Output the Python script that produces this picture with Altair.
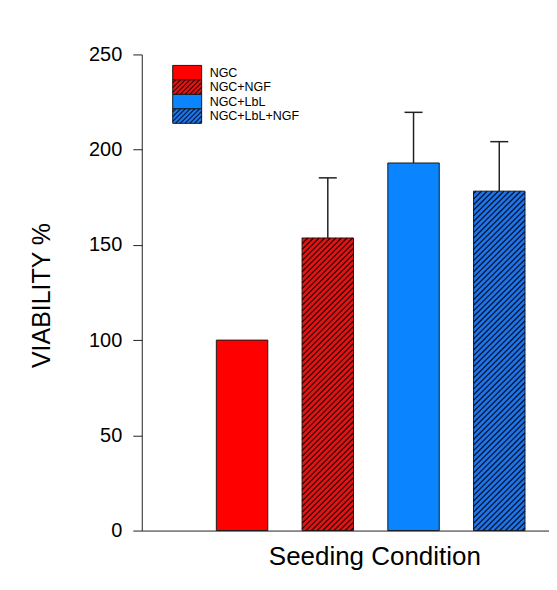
import altair as alt
import numpy as np
import pandas as pd

# ---------------- data ----------------
conditions = ["NGC", "NGC+NGF", "NGC+LbL", "NGC+LbL+NGF"]
positions = [1, 2, 3, 4]
viability = [100.0, 153.6, 193.0, 178.2]
error_up = [0.0, 31.6, 26.6, 26.0]
fills = ["#FF0000", "#E21414", "#0A84FF", "#1F74E8"]
hatch_colors = ["#000000", "#3A0000", "#000000", "#001634"]
hatched = [False, True, False, True]
y_ticks = [0, 50, 100, 150, 200, 250]

# ---------------- layout ----------------
W, H = 408, 477
X_DOMAIN = [-0.17, 4.58]
Y_DOMAIN = [0, 250]
HALF = 0.3          # half bar width in x units
CAP = 0.105         # half cap width
FONT = "Liberation Sans"
PXX = W / (X_DOMAIN[1] - X_DOMAIN[0])
PXY = H / (Y_DOMAIN[1] - Y_DOMAIN[0])
STEP = 5.6


def hatch_segments(w, h, step):
    """diagonal '/' segments inside a w x h box (origin bottom-left, y up)"""
    segs = []
    for c in np.arange(-w + step / 2, h, step):
        x0 = max(0.0, -c)
        x1 = min(w, h - c)
        if x1 <= x0:
            continue
        segs.append((x0, x0 + c, x1, x1 + c))
    return segs


bars = pd.DataFrame({
    "cond": conditions,
    "pos": positions,
    "value": viability,
    "err": error_up,
    "fill": fills,
})
bars["x0"] = bars["pos"] - HALF
bars["x1"] = bars["pos"] + HALF
bars["top"] = bars["value"] + bars["err"]
bars["c0"] = bars["pos"] - CAP
bars["c1"] = bars["pos"] + CAP

rows = []
for p, v, hc, hh in zip(positions, viability, hatch_colors, hatched):
    if not hh:
        continue
    for (a, b, c, d) in hatch_segments(2 * HALF * PXX, v * PXY, STEP):
        rows.append({"hx0": p - HALF + a / PXX, "hy0": b / PXY,
                     "hx1": p - HALF + c / PXX, "hy1": d / PXY, "col": hc})
hatch_df = pd.DataFrame(rows)

xs = alt.Scale(domain=X_DOMAIN, nice=False, zero=False)
ys = alt.Scale(domain=Y_DOMAIN, nice=False)

bar_layer = alt.Chart(bars).mark_rect(stroke="#1a1a1a", strokeWidth=1).encode(
    x=alt.X("x0:Q", scale=xs, axis=alt.Axis(
        title="Seeding Condition", ticks=False, labels=False, grid=False,
        domainColor="#222222", domainWidth=1,
        titleFont=FONT, titleFontSize=26, titleFontWeight="normal", titleColor="#000000",
        titleX=233, titleY=34, titleAlign="center", titleBaseline="alphabetic")),
    x2="x1:Q",
    y=alt.Y("value:Q", scale=ys, axis=alt.Axis(
        title="VIABILITY %", values=y_ticks, grid=False, tickSize=9, tickColor="#222222",
        domainColor="#222222", labelFont=FONT, labelFontSize=20, labelColor="#000000",
        labelPadding=11,
        titleFont=FONT, titleFontSize=25, titleFontWeight="normal", titleColor="#000000",
        titleAngle=270, titleX=-92, titleY=241, titleAlign="center",
        titleBaseline="alphabetic")),
    y2=alt.datum(0),
    fill=alt.Fill("fill:N", scale=None),
)

hatch_layer = alt.Chart(hatch_df).mark_rule(strokeWidth=1.3).encode(
    x=alt.X("hx0:Q", scale=xs), x2="hx1:Q",
    y=alt.Y("hy0:Q", scale=ys), y2="hy1:Q",
    color=alt.Color("col:N", scale=None),
)

err_df = bars[bars["err"] > 0]
err_layer = alt.Chart(err_df).mark_rule(color="#222222", strokeWidth=1.5).encode(
    x=alt.X("pos:Q", scale=xs), y=alt.Y("value:Q", scale=ys), y2="top:Q")
cap_layer = alt.Chart(err_df).mark_rule(color="#222222", strokeWidth=1.5).encode(
    x=alt.X("c0:Q", scale=xs), x2="c1:Q", y=alt.Y("top:Q", scale=ys))

main = alt.layer(bar_layer, hatch_layer, err_layer, cap_layer)

# ---------------- legend (pixel space inside the plot) ----------------
LX, LY, LW, LH = 31, 11, 29, 14.5
leg = pd.DataFrame({"label": conditions, "fill": fills})
leg["i"] = range(len(conditions))
leg["bx0"] = LX
leg["bx1"] = LX + LW
leg["by0"] = LY + leg["i"] * LH
leg["by1"] = LY + (leg["i"] + 1) * LH
leg["ty"] = LY + (leg["i"] + 0.5) * LH
leg["tx"] = LX + LW + 8

lrows = []
for i, (hc, hh) in enumerate(zip(hatch_colors, hatched)):
    if not hh:
        continue
    bottom = LY + (i + 1) * LH
    for (a, b, c, d) in hatch_segments(LW, LH, STEP * 0.85):
        lrows.append({"lx0": LX + a, "ly0": bottom - b, "lx1": LX + c,
                      "ly1": bottom - d, "col": hc})
leg_hatch = pd.DataFrame(lrows)

pxs = alt.Scale(domain=[0, W], range=[0, W], nice=False, zero=False)
pys = alt.Scale(domain=[H, 0], nice=False, zero=False)

leg_box = alt.Chart(leg).mark_rect(stroke="#1a1a1a", strokeWidth=1).encode(
    x=alt.X("bx0:Q", scale=pxs, axis=None), x2="bx1:Q",
    y=alt.Y("by0:Q", scale=pys, axis=None), y2="by1:Q",
    fill=alt.Fill("fill:N", scale=None))
leg_lines = alt.Chart(leg_hatch).mark_rule(strokeWidth=1.1).encode(
    x=alt.X("lx0:Q", scale=pxs, axis=None), x2="lx1:Q",
    y=alt.Y("ly0:Q", scale=pys, axis=None), y2="ly1:Q",
    color=alt.Color("col:N", scale=None))
leg_text = alt.Chart(leg).mark_text(
    align="left", baseline="middle", font=FONT, fontSize=12.5, color="#000000").encode(
    x=alt.X("tx:Q", scale=pxs, axis=None),
    y=alt.Y("ty:Q", scale=pys, axis=None),
    text="label:N")
legend = alt.layer(leg_box, leg_lines, leg_text)

chart = alt.layer(main, legend).resolve_scale(
    x="independent", y="independent", fill="independent", color="independent"
).properties(
    width=W, height=H,
    autosize=alt.AutoSizeParams(type="none"),
    padding={"left": 134, "top": 46, "right": 0, "bottom": 45},
    background="white",
).configure_view(stroke=None)

chart.save("out.html", embed_options={"renderer": "svg", "actions": False})
